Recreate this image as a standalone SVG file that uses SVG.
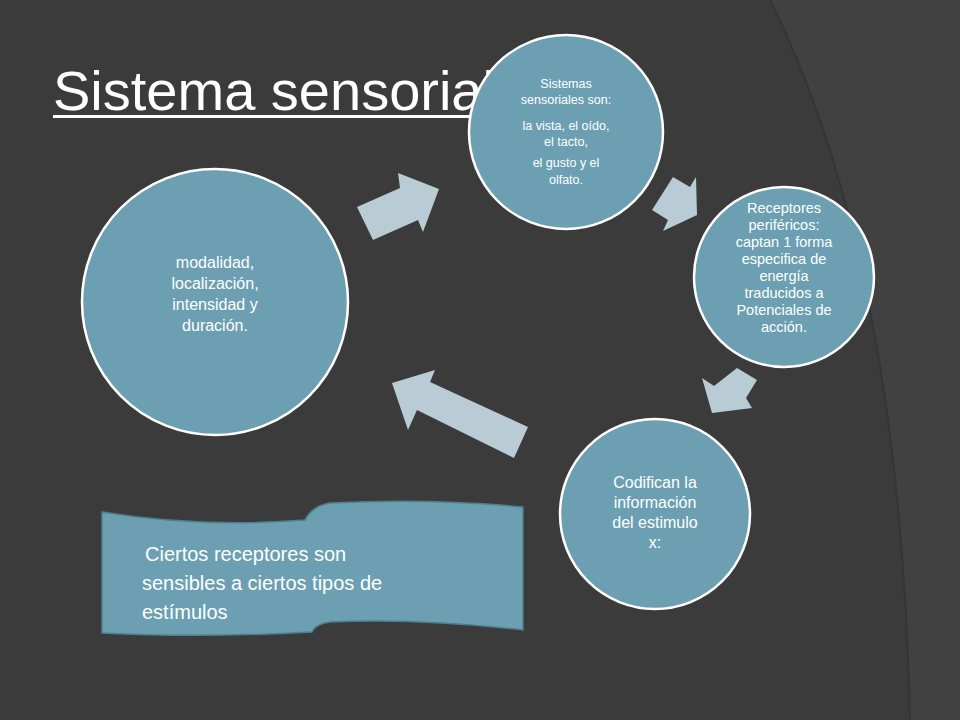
<svg xmlns="http://www.w3.org/2000/svg" width="960" height="720" viewBox="0 0 960 720">
<style>
.n{fill:#6b9fb1;stroke:#fff;stroke-width:2.5}
.t{fill:#fff;font-family:"Liberation Sans",Arial,sans-serif;text-anchor:middle}
.a{fill:#b9ccd5}
</style>
<rect width="960" height="720" fill="#3b3b3b"/>
<path d="M770 0 Q900 260 910 720 L960 720 L960 0 Z" fill="#414141"/>
<path d="M770 0 Q900 260 910 720" fill="none" stroke="#353535" stroke-width="2"/>
<text x="53" y="110" font-family="Liberation Sans,Arial,sans-serif" font-size="56" fill="#fff">Sistema sensorial</text>
<rect x="53" y="115" width="420" height="3" fill="#fff"/>
<g id="connectors">
<polygon class="a" points="357,207 400,188 398,173 439,189 423,232 418,220 373,240"/>
<polygon class="a" points="652,210 673,177 690,187 696,177 697,215 663,231 668,220"/>
<polygon class="a" points="737,368 757,380 746,398 752,408 712,413 702,378 714,386"/>
<polygon class="a" points="392,383 435,370 430,382 528,427 514,458 417,410 408,430"/>
</g>
<g id="n1"><circle class="n" cx="215" cy="302" r="133"/>
<text class="t" font-size="16"><tspan x="215" y="268">modalidad,</tspan><tspan x="215" y="289">localización,</tspan><tspan x="215" y="310">intensidad y</tspan><tspan x="215" y="331">duración.</tspan></text></g>
<g id="n2"><circle class="n" cx="566" cy="132" r="97"/>
<text class="t" font-size="12.5"><tspan x="566" y="88">Sistemas</tspan><tspan x="566" y="104">sensoriales son:</tspan><tspan x="566" y="130">la vista, el oído,</tspan><tspan x="566" y="146">el tacto,</tspan><tspan x="566" y="167">el gusto y el</tspan><tspan x="566" y="184">olfato.</tspan></text></g>
<g id="n3"><circle class="n" cx="784" cy="277" r="90"/>
<text class="t" font-size="14.5"><tspan x="784" y="213">Receptores</tspan><tspan x="784" y="230">periféricos:</tspan><tspan x="784" y="247">captan 1 forma</tspan><tspan x="784" y="264">especifica de</tspan><tspan x="784" y="281">energía</tspan><tspan x="784" y="298">traducidos a</tspan><tspan x="784" y="315">Potenciales de</tspan><tspan x="784" y="332">acción.</tspan></text></g>
<g id="n4"><circle class="n" cx="655" cy="514" r="95"/>
<text class="t" font-size="16"><tspan x="655" y="488">Codifican la</tspan><tspan x="655" y="508">información</tspan><tspan x="655" y="528">del estimulo</tspan><tspan x="655" y="548">x:</tspan></text></g>
<g id="banner">
<path d="M102 512 Q200 528 305 520 Q312 506 330 503 Q430 498 523 507 L523 630 Q420 618 330 622 Q315 624 312 632 Q200 638 102 633 Z" fill="#6b9fb1" stroke="#4d7f90" stroke-width="1.5"/>
<text font-family="Liberation Sans,Arial,sans-serif" font-size="20" fill="#fff"><tspan x="145" y="561">Ciertos receptores son</tspan><tspan x="142" y="590">sensibles a ciertos tipos de</tspan><tspan x="142" y="619">estímulos</tspan></text></g>
</svg>
